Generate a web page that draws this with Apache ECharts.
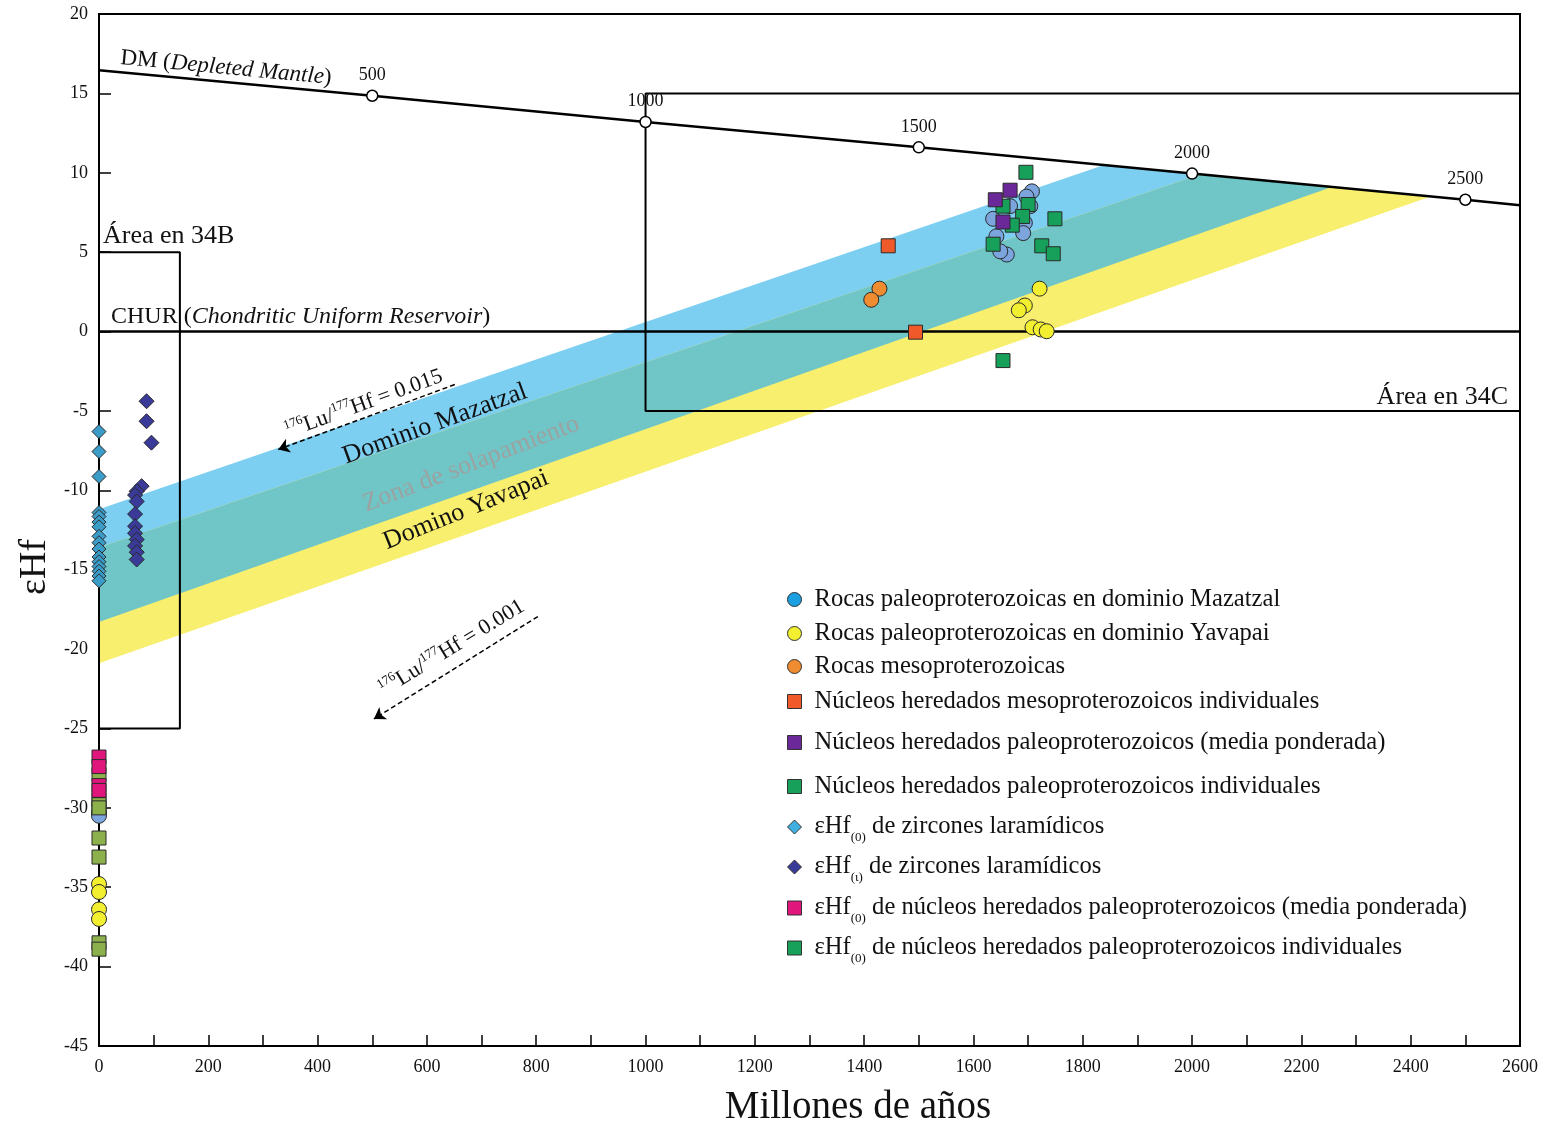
<!DOCTYPE html>
<html><head><meta charset="utf-8">
<script src="https://cdn.jsdelivr.net/npm/echarts@6/dist/echarts.min.js"></script>
<style>html,body{margin:0;padding:0;background:#fff}#c{width:1552px;height:1127px}</style>
</head><body><div id="c"></div>
<script>
// ---------- DATA ----------
const dmAges = [0, 500, 1000, 1500, 2000, 2500, 2600];
const dmEps  = [16.45, 14.85, 13.2, 11.6, 9.95, 8.3, 7.95];
const churLine = [[0, 0], [2600, 0]];

// evolution bands (vertices, age Ma / eps Hf)
const mazatzalBand = [[0, -11.2], [1836, 10.45], [2253, 9.08], [0, -18.3]];
const yavapaiBand  = [[0, -13.6], [2013, 9.87], [2435, 8.49], [0, -20.9]];
const overlapBand  = [[0, -13.6], [2013, 9.87], [2253, 9.08], [0, -18.3]];

const box34B = [[0, 5], [148, 5], [148, -25], [0, -25]];
const box34C = [[2600, 15], [1000, 15], [1000, -5], [2600, -5]];

const arrow015 = [[651, -3.34], [328, -7.43]];
const arrow001 = [[803, -17.95], [503, -24.4]];

const mazRocksAge = [1707, 1697, 1667, 1636, 1704, 1694, 1691, 1642, 1661, 1649, 0, 0];
const mazRocksEps = [8.83, 8.5, 7.9, 7.1, 7.9, 6.85, 6.2, 6.0, 4.85, 5.05, -30.3, -30.5];
const yavRocksAge = [1721, 1694, 1683, 1708, 1723, 1734, 0, 0, 0, 0];
const yavRocksEps = [2.7, 1.64, 1.34, 0.27, 0.13, 0.02, -34.8, -35.3, -36.4, -37.0];
const mesoRocksAge = [1428, 1413];
const mesoRocksEps = [2.7, 2.0];
const mesoCoresAge = [1444, 1494];
const mesoCoresEps = [5.4, -0.04];
const paleoMeanAge = [1667, 1640, 1654];
const paleoMeanEps = [8.9, 8.3, 6.9];
const paleoIndAge = [1696, 1749, 1725, 1746, 1636, 1700, 1690, 1671, 1654, 1654];
const paleoIndEps = [10.03, 7.1, 5.4, 4.9, 5.5, 8.0, 7.25, 6.7, 7.9, -1.83];
const lara0Age = [0, 0, 0, 0, 0, 0, 0, 0, 0, 0, 0, 0, 0, 0, 0, 0];
const lara0Eps = [-6.3, -7.56, -9.13, -11.4, -11.65, -12.0, -12.3, -12.9, -13.3, -13.7, -14.2, -14.5, -14.8, -15.1, -15.4, -15.7];
const laraTAge = [87, 87, 96, 78, 69, 66, 69, 66, 66, 66, 69, 66, 69, 69];
const laraTEps = [-4.39, -5.65, -7.0, -9.74, -10.06, -10.3, -10.7, -11.5, -12.26, -12.7, -13.1, -13.5, -13.9, -14.36];
const mean0Age = [0, 0, 0, 0];
const mean0Eps = [-26.8, -27.4, -28.6, -28.9];
const ind0Age = [0, 0, 0, 0, 0, 0, 0, 0];
const ind0Eps = [-27.9, -29.5, -29.8, -30.0, -31.9, -33.1, -38.5, -38.9];

const seriesNames = [
  'Rocas paleoproterozoicas en dominio Mazatzal',
  'Rocas paleoproterozoicas en dominio Yavapai',
  'Rocas mesoproterozoicas',
  'Núcleos heredados mesoproterozoicos individuales',
  'Núcleos heredados paleoproterozoicos (media ponderada)',
  'Núcleos heredados paleoproterozoicos individuales',
  'εHf(0) de zircones laramídicos',
  'εHf(t) de zircones laramídicos',
  'εHf(0) de núcleos heredados paleoproterozoicos (media ponderada)',
  'εHf(0) de núcleos heredados paleoproterozoicos individuales'
];

// ---------- CHART ----------
const SERIF = '"Liberation Serif", "Times New Roman", serif';
const chart = echarts.init(document.getElementById('c'));
const pts = (a, e) => a.map((x, i) => [x, e[i]]);
const band = (poly, color) => ({
  type: 'custom', silent: true, z: 1, clip: false, data: [[0, 0]],
  renderItem: (p, api) => ({ type: 'polygon', shape: { points: poly.map(q => api.coord(q)) }, style: { fill: color } })
});
const poly = (d, closed) => ({
  type: 'line', data: closed ? d.concat([d[0]]) : d, symbol: 'none', silent: true, z: 3,
  lineStyle: { color: '#000', width: 2 }
});
const sc = (name, a, e, symbol, size, color, z) => ({
  type: 'scatter', name, data: pts(a, e), symbol, symbolSize: size, z: z || 5, silent: true,
  itemStyle: { color, borderColor: '#2a2a2a', borderWidth: 1, opacity: 1 }
});

const legendColors = ['#1aa0e0', '#f2ee30', '#f08c30', '#f05a2a', '#6a2898', '#16a05a', '#40b0e0', '#3a3a98', '#e0167c', '#16a05a'];
const legendRowsY = [599, 633, 666, 701, 742, 786, 827, 867, 908, 948];
const legends = seriesNames.map((n, i) => {
  const rich = n.startsWith('εHf');
  return {
    data: [{ name: n, itemStyle: { color: legendColors[i], borderColor: '#333', borderWidth: 1 } }],
    left: 787, top: legendRowsY[i] - (rich ? 17 : 12), padding: 0, itemWidth: 14, itemHeight: 14,
    selectedMode: false,
    formatter: nm => {
      const m = nm.match(/^εHf\((0|t)\)(.*)$/);
      if (!m) return nm;
      return '{m|εHf}{s|(' + (m[1] === 't' ? 'ι' : '0') + ')}{m|' + m[2] + '}';
    },
    textStyle: {
      fontFamily: SERIF, fontSize: 24.6, color: '#111', lineHeight: 24, padding: [0, 0, 0, 8],
      rich: {
        m: { fontFamily: SERIF, fontSize: 24.6, color: '#111', lineHeight: 34 },
        s: { fontFamily: SERIF, fontSize: 13, color: '#111', lineHeight: 14, verticalAlign: 'bottom' }
      }
    }
  };
});

const txt = (x, y, rot, text, size, extra) => ({
  type: 'text', x, y, rotation: rot * Math.PI / 180, silent: true, z: 50,
  style: Object.assign({
    text, fontFamily: SERIF, fontSize: size, fill: '#111', align: 'center', verticalAlign: 'middle'
  }, extra || {})
});
const luRich = {
  n: { fontFamily: SERIF, fontSize: 22, fill: '#111', color: '#111', lineHeight: 26 },
  sp: { fontFamily: SERIF, fontSize: 13, fill: '#111', color: '#111', lineHeight: 13, verticalAlign: 'top' }
};

const option = {
  animation: false,
  backgroundColor: '#fff',
  grid: { left: 99, right: 32, top: 14, bottom: 81, show: true, borderColor: '#000', borderWidth: 2, outerBoundsMode: 'none', containLabel: false },
  xAxis: {
    type: 'value', min: 0, max: 2600, interval: 100,
    axisLine: { onZero: false, lineStyle: { color: '#000', width: 2 } },
    axisTick: { inside: true, length: 11, lineStyle: { color: '#000', width: 1.5 } },
    axisLabel: { formatter: v => (v % 200 === 0 ? String(v) : ''), fontFamily: SERIF, fontSize: 18, color: '#111', margin: 12, showMaxLabel: true, showMinLabel: true },
    splitLine: { show: false }
  },
  yAxis: {
    type: 'value', min: -45, max: 20, interval: 5,
    axisLine: { onZero: false, lineStyle: { color: '#000', width: 2 } },
    axisTick: { inside: true, length: 12, lineStyle: { color: '#000', width: 1.5 } },
    axisLabel: { fontFamily: SERIF, fontSize: 18, color: '#111', margin: 11, showMaxLabel: true, showMinLabel: true },
    splitLine: { show: false }
  },
  legend: legends,
  series: [
    band(mazatzalBand, '#7dcff2'),
    band(yavapaiBand, '#f9ef6e'),
    band(overlapBand, '#70c6c6'),
    poly(box34B, true),
    poly(box34C, false),
    Object.assign(poly(churLine, false), { lineStyle: { color: '#000', width: 2.5 } }),
    {
      type: 'lines', coordinateSystem: 'cartesian2d', silent: true, z: 4,
      data: [{ coords: arrow015 }, { coords: arrow001 }],
      symbol: ['none', 'arrow'], symbolSize: 11,
      lineStyle: { color: '#000', width: 1.5, type: [5, 3], opacity: 1 }
    },
    sc(seriesNames[0], mazRocksAge, mazRocksEps, 'circle', 15, '#7ba5dc'),
    sc(seriesNames[1], yavRocksAge, yavRocksEps, 'circle', 15, '#f2ee30'),
    sc(seriesNames[2], mesoRocksAge, mesoRocksEps, 'circle', 15, '#f08c30'),
    sc(seriesNames[3], mesoCoresAge, mesoCoresEps, 'rect', 14, '#f05a2a'),
    sc(seriesNames[5], paleoIndAge, paleoIndEps, 'rect', 14, '#16a05a'),
    sc(seriesNames[4], paleoMeanAge, paleoMeanEps, 'rect', 14, '#6a2898', 6),
    sc(seriesNames[6], lara0Age, lara0Eps, 'diamond', 14, '#3b9cc8'),
    sc(seriesNames[7], laraTAge, laraTEps, 'diamond', 15, '#3a3a98'),
    sc(seriesNames[9], ind0Age, ind0Eps, 'rect', 14, '#8cb04c'),
    sc(seriesNames[8], mean0Age, mean0Eps, 'rect', 14, '#e0167c', 6),
    {
      type: 'line', name: 'DM', z: 7, silent: true,
      data: dmAges.map((a, i) => {
        const mk = a > 0 && a % 500 === 0;
        return { value: [a, dmEps[i]], symbol: mk ? 'circle' : 'none', label: { show: mk } };
      }),
      symbolSize: 11, showAllSymbol: true,
      itemStyle: { color: '#fff', borderColor: '#000', borderWidth: 1.5 },
      lineStyle: { color: '#000', width: 2.5 },
      label: { position: 'top', distance: 5, formatter: p => String(p.value[0]), fontFamily: SERIF, fontSize: 18, color: '#111' }
    }
  ],
  graphic: [
    txt(226, 68, -5.4, '{n|DM (}{i|Depleted Mantle}{n|)}', 23, {
      rich: { n: { fontFamily: SERIF, fontSize: 23, fill: '#111' }, i: { fontFamily: SERIF, fontSize: 23, fontStyle: 'italic', fill: '#111' } }
    }),
    txt(111, 317, 0, '{n|CHUR (}{i|Chondritic Uniform Reservoir}{n|)}', 24, {
      align: 'left',
      rich: { n: { fontFamily: SERIF, fontSize: 24, fill: '#111' }, i: { fontFamily: SERIF, fontSize: 24, fontStyle: 'italic', fill: '#111' } }
    }),
    txt(103, 236, 0, 'Área en 34B', 26, { align: 'left' }),
    txt(1508, 397, 0, 'Área en 34C', 26, { align: 'right' }),
    txt(435, 424, 20, 'Dominio Mazatzal', 26),
    txt(471, 464, 21, 'Zona de solapamiento', 26, { fill: '#9ca2a2' }),
    txt(466, 510, 22, 'Domino Yavapai', 26),
    txt(364, 404, 20, '{sp|176}{n|Lu/}{sp|177}{n|Hf = 0.015}', 22, { rich: luRich }),
    txt(452, 648, 31.5, '{sp|176}{n|Lu/}{sp|177}{n|Hf = 0.001}', 22, { rich: luRich }),
    txt(35, 567, 90, 'εHf', 38),
    txt(858, 1108, 0, 'Millones de años', 39)
  ]
};
chart.setOption(option);
</script>
</body></html>
